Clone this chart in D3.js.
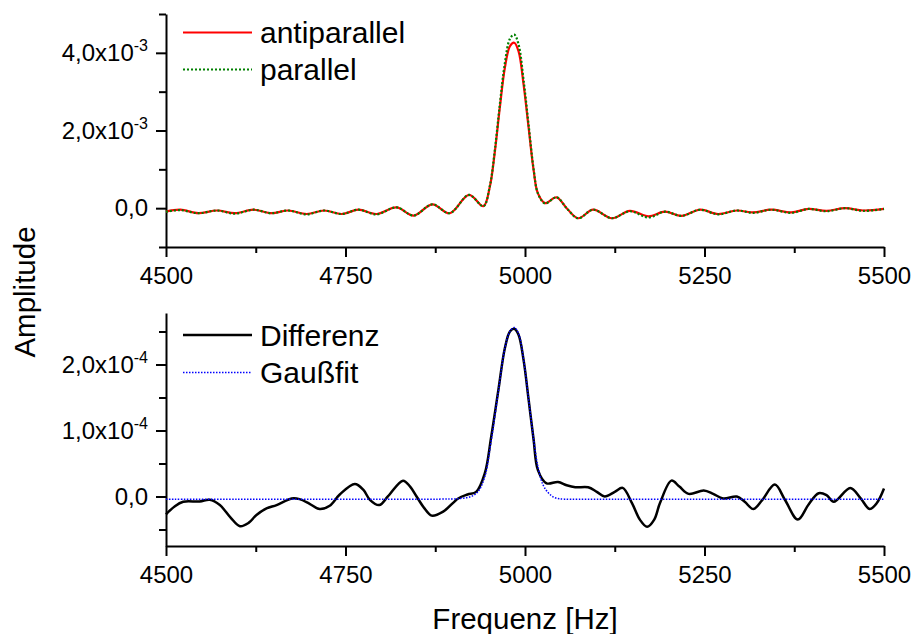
<!DOCTYPE html>
<html>
<head>
<meta charset="utf-8">
<script src="https://cdn.jsdelivr.net/npm/d3@7"></script>
<style>
  body { margin: 0; background: #fff; }
  svg { display: block; }
  text { font-family: "Liberation Sans", Arial, sans-serif; }
</style>
</head>
<body>
<div id="chart"></div>
<script>
// ---- data ----
// upper panel, amplitude in units of 1e-3
var topFreq = [4500,4520,4545,4571,4596,4622,4647,4670,4696,4720,4745,4768,4793,4821,4845,4871,4895,
  4922,4942,4951,4958,4965,4972,4979,4985,4991,4998,5005,5012,5018,5028,5044,5058,5074,5095,5121,
  5146,5172,5195,5218,5244,5269,5295,5318,5343,5371,5395,5420,5446,5471,5500];
var antiparallel = [-0.09,-0.04,-0.13,-0.06,-0.13,-0.04,-0.13,-0.06,-0.15,-0.06,-0.15,-0.04,-0.15,0.02,-0.19,0.10,-0.13,
  0.34,0.05,0.55,1.45,2.60,3.62,4.17,4.26,4.04,3.19,2.08,0.98,0.38,0.13,0.28,0.00,-0.26,-0.04,-0.26,
  -0.07,-0.21,-0.09,-0.20,-0.04,-0.15,-0.06,-0.11,-0.04,-0.11,-0.02,-0.07,0.00,-0.06,-0.02];
var parallel = [-0.09,-0.05,-0.13,-0.06,-0.14,-0.04,-0.13,-0.06,-0.16,-0.06,-0.15,-0.04,-0.16,0.02,-0.19,0.10,-0.13,
  0.34,0.05,0.57,1.50,2.68,3.74,4.36,4.47,4.22,3.30,2.15,1.00,0.38,0.12,0.28,0.00,-0.26,-0.04,-0.26,
  -0.08,-0.24,-0.09,-0.20,-0.04,-0.16,-0.06,-0.12,-0.04,-0.12,-0.02,-0.08,0.00,-0.07,-0.02];

// lower panel, amplitude in units of 1e-4
var diffFreq = [4500,4512,4524,4547,4561,4575,4590,4603,4615,4626,4640,4654,4675,4686,4700,4714,4728,4742,
  4763,4775,4784,4797,4809,4830,4840,4849,4860,4870,4886,4907,4920,4932,4944,4953,4963,4972,4979,4985,
  4991,4998,5005,5012,5018,5030,5046,5058,5070,5088,5100,5111,5125,5136,5149,5160,5170,5180,5188,5204,
  5215,5228,5249,5262,5276,5295,5306,5318,5330,5348,5362,5380,5395,5409,5420,5430,5453,5467,5480,5490,5500];
var differenz = [-0.27,-0.15,-0.08,-0.076,-0.05,-0.13,-0.32,-0.45,-0.40,-0.28,-0.18,-0.13,-0.03,-0.04,-0.11,-0.19,-0.14,0.03,
  0.19,0.10,-0.05,-0.13,0.00,0.24,0.15,0.00,-0.18,-0.29,-0.23,-0.03,0.03,0.07,0.35,0.91,1.62,2.25,2.50,2.54,
  2.45,2.07,1.47,0.86,0.40,0.20,0.22,0.17,0.14,0.14,0.07,0.00,0.07,0.13,-0.10,-0.35,-0.46,-0.35,-0.10,0.24,
  0.15,0.04,0.09,0.04,-0.03,0.00,-0.08,-0.19,-0.06,0.18,-0.05,-0.35,-0.12,0.05,0.02,-0.08,0.13,-0.02,-0.19,-0.10,0.12];
var gaussFreq = [4500,4600,4700,4800,4880,4910,4925,4935,4944,4953,4963,4972,4979,4985,4991,4998,5005,5012,
  5018,5025,5033,5042,5055,5100,5200,5300,5400,5500];
var gaussfit = [-0.04,-0.04,-0.04,-0.04,-0.04,-0.03,0.00,0.08,0.30,0.85,1.60,2.25,2.50,2.56,2.47,2.08,1.48,0.87,
  0.45,0.18,0.05,-0.02,-0.04,-0.04,-0.04,-0.04,-0.04,-0.04];

var xTicks = [4500, 4750, 5000, 5250, 5500];
var xMinor = [4625, 4875, 5125, 5375];
var topTicks = [0, 2, 4], topMinor = [-1, 1, 3, 5], topExp = "-3";
var botTicks = [0, 1, 2], botMinor = [-0.5, 0.5, 1.5, 2.5], botExp = "-4";

var width = 913, height = 634;
var FONT = "'Liberation Sans', Arial, sans-serif";

var svg = d3.select("#chart").append("svg")
    .attr("width", width)
    .attr("height", height)
    .attr("font-family", FONT);

var x = d3.scaleLinear().domain([4500, 5500]).range([166, 884]);
var yTop = d3.scaleLinear().domain([-1, 5]).range([247, 14]);
var yBot = d3.scaleLinear().domain([-0.75, 2.78]).range([546, 313]);

function styleAxis(sel) {
  sel.attr("font-size", 24).attr("font-family", FONT);
  sel.selectAll("path, line").attr("stroke", "#000").attr("stroke-width", 2);
  sel.selectAll("text").attr("fill", "#000");
}

// "2,0x10" + raised exponent, plain "0,0" at zero
function fmt(exp) {
  return function(sel) {
    sel.selectAll(".tick text").each(function(d) {
      var t = d3.select(this).text(null);
      t.append("tspan").text(d3.format(".1f")(d).replace(".", ",") + (d === 0 ? "" : "x10"));
      if (d !== 0) t.append("tspan").attr("dy", -10).attr("font-size", 16).text(exp);
    });
  };
}

function panel(y, baseY, major, minor, exp) {
  // minor ticks first, then major axes
  svg.append("g")
      .attr("transform", "translate(0," + baseY + ")")
      .call(d3.axisBottom(x).tickValues(xMinor).tickSize(6).tickSizeOuter(0).tickFormat(""))
      .call(styleAxis)
      .select(".domain").remove();
  svg.append("g")
      .attr("transform", "translate(166,0)")
      .call(d3.axisLeft(y).tickValues(minor).tickSize(7).tickSizeOuter(0).tickFormat(""))
      .call(styleAxis)
      .select(".domain").remove();

  svg.append("g")
      .attr("transform", "translate(0," + baseY + ")")
      .call(d3.axisBottom(x).tickValues(xTicks).tickSize(10).tickSizeOuter(0).tickPadding(10).tickFormat(d3.format("d")))
      .call(styleAxis);
  svg.append("g")
      .attr("transform", "translate(166,0)")
      .call(d3.axisLeft(y).tickValues(major).tickSize(10).tickSizeOuter(0).tickPadding(8))
      .call(styleAxis)
      .call(fmt(exp));
}

panel(yTop, 247, topTicks, topMinor, topExp);
panel(yBot, 546, botTicks, botMinor, botExp);

function lineFor(y, xs) {
  return d3.line()
      .x(function(d, i) { return x(xs[i]); })
      .y(function(d) { return y(d); })
      .curve(d3.curveCatmullRom.alpha(0.5));
}

// upper curves
svg.append("path").datum(antiparallel)
    .attr("fill", "none").attr("stroke", "#ff0000").attr("stroke-width", 2.2)
    .attr("d", lineFor(yTop, topFreq));
svg.append("path").datum(parallel)
    .attr("fill", "none").attr("stroke", "#008000").attr("stroke-width", 2.2)
    .attr("stroke-dasharray", "2,2")
    .attr("d", lineFor(yTop, topFreq));

// lower curves
svg.append("path").datum(differenz)
    .attr("fill", "none").attr("stroke", "#000").attr("stroke-width", 2.5)
    .attr("d", lineFor(yBot, diffFreq));
svg.append("path").datum(gaussfit)
    .attr("fill", "none").attr("stroke", "#0000ff").attr("stroke-width", 1.5)
    .attr("stroke-dasharray", "1.5,1.5")
    .attr("d", lineFor(yBot, gaussFreq));

// legends
var legends = [
  {y: 32.5, label: "antiparallel", color: "#ff0000", w: 2.2, dash: null},
  {y: 69.5, label: "parallel", color: "#008000", w: 2.2, dash: "2,2"},
  {y: 335, label: "Differenz", color: "#000", w: 2.5, dash: null},
  {y: 372.5, label: "Gaußfit", color: "#0000ff", w: 1.5, dash: "1.5,1.5"}
];
var leg = svg.selectAll(".legend").data(legends).enter().append("g").attr("class", "legend");
leg.append("line")
    .attr("x1", 183).attr("x2", 252)
    .attr("y1", function(d) { return d.y; }).attr("y2", function(d) { return d.y; })
    .attr("stroke", function(d) { return d.color; })
    .attr("stroke-width", function(d) { return d.w; })
    .attr("stroke-dasharray", function(d) { return d.dash; });
leg.append("text")
    .attr("x", 260).attr("y", function(d) { return d.y + 10.5; })
    .attr("font-size", 30)
    .text(function(d) { return d.label; });

// axis titles
svg.append("text")
    .attr("x", 525).attr("y", 629)
    .attr("text-anchor", "middle")
    .attr("font-size", 29.5)
    .text("Frequenz [Hz]");
svg.append("text")
    .attr("transform", "translate(35,292) rotate(-90)")
    .attr("text-anchor", "middle")
    .attr("font-size", 29.5)
    .text("Amplitude");
</script>
</body>
</html>
